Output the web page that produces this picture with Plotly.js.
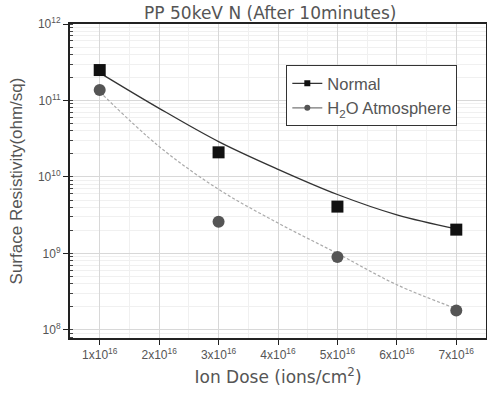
<!DOCTYPE html>
<html>
<head>
<meta charset="utf-8">
<script src="https://cdn.plot.ly/plotly-3.0.1.min.js"></script>
<style>html,body{margin:0;padding:0;background:#fff;}#chart{width:487px;height:395px;}</style>
</head>
<body>
<div id="chart"></div>
<script>
// Measured data
var doses = [1e16, 3e16, 5e16, 7e16];
var normalVals = [2.5e11, 2.1e10, 4.1e9, 2.05e9];
var h2oVals = [1.37e11, 2.6e9, 9.0e8, 1.8e8];
// Fit curves
var fitDoses = [1e16, 2e16, 3e16, 4e16, 5e16, 6e16, 7e16];
var normalFit = [2.3e11, 7.9e10, 2.9e10, 1.26e10, 5.9e9, 3.2e9, 2.1e9];
var h2oFit = [1.3e11, 2.5e10, 6.9e9, 2.5e9, 1.0e9, 3.9e8, 1.9e8];
// Tick labels
var xTickVals = [1e16, 2e16, 3e16, 4e16, 5e16, 6e16, 7e16];
var xTickText = ['1x10<sup>16</sup>','2x10<sup>16</sup>','3x10<sup>16</sup>','4x10<sup>16</sup>','5x10<sup>16</sup>','6x10<sup>16</sup>','7x10<sup>16</sup>'];
var yTickVals = [1e8, 1e9, 1e10, 1e11, 1e12];
var yTickText = ['10<sup>8</sup>','10<sup>9</sup>','10<sup>10</sup>','10<sup>11</sup>','10<sup>12</sup>'];
var seriesNames = ['Normal', 'H<sub>2</sub>O Atmosphere'];

var fontFam = 'Liberation Sans, Arial, sans-serif';
var txt = '#555';

var traces = [
  {x: fitDoses, y: normalFit, mode: 'lines', line: {shape: 'spline', smoothing: 1, color: '#333', width: 1.3}, showlegend: false, hoverinfo: 'skip'},
  {x: fitDoses, y: h2oFit, mode: 'lines', line: {shape: 'spline', smoothing: 1, color: '#aaa', width: 1.2, dash: '3px,2px'}, showlegend: false, hoverinfo: 'skip'},
  {x: doses, y: normalVals, mode: 'markers', marker: {symbol: 'square', size: 12, color: '#111'}, showlegend: false},
  {x: doses, y: h2oVals, mode: 'markers', marker: {symbol: 'circle', size: 12, color: '#555'}, showlegend: false},
  {x: [null], y: [null], name: seriesNames[0], mode: 'lines+markers', line: {color: '#333', width: 1.3}, marker: {symbol: 'square', size: 6, color: '#111'}},
  {x: [null], y: [null], name: seriesNames[1], mode: 'lines+markers', line: {color: '#777', width: 1.2}, marker: {symbol: 'circle', size: 6, color: '#555'}}
];

var layout = {
  width: 487, height: 395,
  margin: {l: 70, r: 1, t: 24, b: 57},
  paper_bgcolor: '#fff', plot_bgcolor: '#fff',
  font: {family: fontFam, color: txt, size: 13},
  title: {text: 'PP 50keV N (After 10minutes)', font: {size: 17, color: txt, family: 'DejaVu Sans, sans-serif'},
          xref: 'container', yref: 'container', x: 0.555, xanchor: 'center', y: 0.968, yanchor: 'middle'},
  xaxis: {
    range: [0.5e16, 7.5e16], tickvals: xTickVals, ticktext: xTickText,
    showline: true, linecolor: '#222', linewidth: 2, mirror: true,
    ticks: 'outside', ticklen: 5, tickcolor: '#222',
    showgrid: true, gridcolor: '#d8d8d8', gridwidth: 1, zeroline: false,
    minor: {dtick: 0.5e16, tick0: 0.5e16, showgrid: true, gridcolor: '#f0f0f0', ticks: ''},
    tickfont: {size: 12, color: txt},
    title: {text: 'Ion Dose (ions/cm<sup>2</sup>)', font: {size: 17, color: txt, family: 'DejaVu Sans, sans-serif'}, standoff: 10}
  },
  yaxis: {
    type: 'log', range: [7.895, 12], tickvals: yTickVals, ticktext: yTickText,
    showline: true, linecolor: '#222', linewidth: 2, mirror: true,
    ticks: 'outside', ticklen: 5, tickcolor: '#222',
    showgrid: true, gridcolor: '#d8d8d8', gridwidth: 1, zeroline: false,
    minor: {dtick: 'D1', ticks: 'inside', ticklen: 3, tickcolor: '#444', showgrid: true, gridcolor: '#f0f0f0'},
    tickfont: {size: 12, color: txt},
    title: {text: 'Surface Resistivity(ohm/sq)', font: {size: 17, color: txt}, standoff: 11}
  },
  legend: {x: 0.52, y: 0.869, xanchor: 'left', yanchor: 'top', bgcolor: '#fff',
           bordercolor: '#333', borderwidth: 1, font: {size: 16.5, color: txt},
           tracegroupgap: 0, itemwidth: 30}
};

Plotly.newPlot('chart', traces, layout, {displayModeBar: false, staticPlot: true});
</script>
</body>
</html>
